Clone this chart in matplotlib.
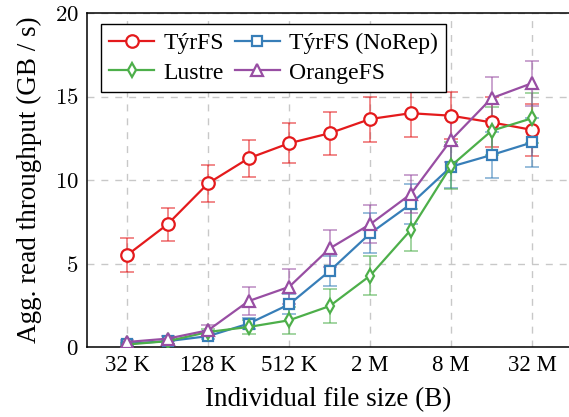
import numpy as np
import matplotlib.pyplot as plt

plt.rcParams['font.family'] = ['Liberation Serif', 'DejaVu Serif']
plt.rcParams['mathtext.fontset'] = 'cm'

# File sizes from 32 K to 32 M, one point per doubling
sizes = ['32 K', '64 K', '128 K', '256 K', '512 K', '1 M', '2 M', '4 M', '8 M', '16 M', '32 M']

tyrfs = [5.5, 7.35, 9.8, 11.3, 12.2, 12.8, 13.65, 14.0, 13.85, 13.45, 13.0]
tyrfs_err = [1.0, 1.0, 1.1, 1.1, 1.2, 1.3, 1.35, 1.4, 1.4, 1.5, 1.55]

norep = [0.2, 0.35, 0.65, 1.4, 2.55, 4.55, 6.8, 8.55, 10.8, 11.5, 12.25]
norep_err = [0.1, 0.15, 0.2, 0.35, 0.6, 0.9, 1.2, 1.2, 1.3, 1.4, 1.45]

lustre = [0.15, 0.35, 0.9, 1.2, 1.6, 2.45, 4.27, 7.0, 10.85, 12.95, 13.7]
lustre_err = [0.1, 0.15, 0.2, 0.4, 0.8, 1.0, 1.15, 1.25, 1.4, 1.45, 1.5]

orangefs = [0.3, 0.5, 1.0, 2.75, 3.6, 5.9, 7.35, 9.15, 12.4, 14.9, 15.8]
orangefs_err = [0.1, 0.15, 0.3, 0.85, 1.05, 1.1, 1.15, 1.15, 1.3, 1.25, 1.35]

x = np.arange(len(sizes))

fig = plt.figure(figsize=(5.69, 4.17), dpi=100)
ax = fig.add_axes([87 / 569, 70 / 417, 1 - 87 / 569, 334 / 417])

series = [
    ('TýrFS', tyrfs, tyrfs_err, '#e41a1c', 'o', 9),
    ('TýrFS (NoRep)', norep, norep_err, '#377eb8', 's', 7.5),
    ('Lustre', lustre, lustre_err, '#4daf4a', 'd', 7.5),
    ('OrangeFS', orangefs, orangefs_err, '#984ea3', '^', 8),
]

handles = []
for label, vals, err, col, mk, ms in series:
    ax.errorbar(x, vals, yerr=err, fmt='none', ecolor=col, alpha=0.6,
                elinewidth=1.2, capsize=5, capthick=1.2, zorder=2)
    h, = ax.plot(x, vals, color=col, marker=mk, markersize=ms, markerfacecolor='white',
                 markeredgecolor=col, markeredgewidth=1.6, linewidth=1.6, label=label, zorder=3)
    handles.append(h)

ax.set_xlim(-0.99, 10.91)
ax.set_ylim(0, 20)
ax.set_xticks(x[::2])
ax.set_xticklabels(sizes[::2])
ax.set_yticks([0, 5, 10, 15, 20])
ax.set_yticklabels(['$%d$' % v for v in [0, 5, 10, 15, 20]])
ax.tick_params(length=0, labelsize=16.5, pad=6)

ax.grid(True, color='#c8c8c8', linestyle=(0, (5, 5)), linewidth=1)
ax.set_axisbelow(True)
ax.spines['right'].set_visible(False)
for s in ['left', 'top', 'bottom']:
    ax.spines[s].set_linewidth(1.1)

ax.set_xlabel('Individual file size (B)', fontsize=19.5, labelpad=8)
ax.set_ylabel('Agg. read throughput (GB / s)', fontsize=19.5, labelpad=9)

# row-major order like the original: TýrFS, NoRep / Lustre, OrangeFS
order = [0, 2, 1, 3]
leg = ax.legend([handles[i] for i in order], [series[i][0] for i in order],
                ncol=2, loc='upper left', bbox_to_anchor=(0.029, 0.967), borderaxespad=0,
                fontsize=17, fancybox=False, edgecolor='black', framealpha=1,
                handlelength=1.9, columnspacing=0.45, handletextpad=0.4, borderpad=0.35,
                labelspacing=0.35)
leg.get_frame().set_linewidth(1)

fig.savefig('out.png', dpi=100)
